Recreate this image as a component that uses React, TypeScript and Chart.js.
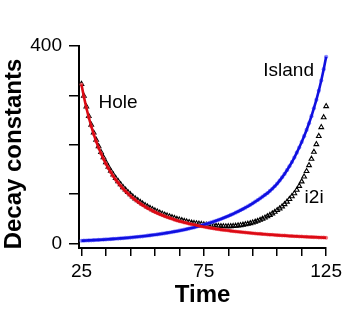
import React, { useEffect, useRef } from "react";
import { Chart, registerables } from "chart.js";

Chart.register(...registerables);

const times = [
  25, 26, 27, 28, 29, 30, 31, 32, 33, 34, 35, 36, 37, 38, 39, 40, 41, 42, 43, 44,
  45, 46, 47, 48, 49, 50, 51, 52, 53, 54, 55, 56, 57, 58, 59, 60, 61, 62, 63, 64,
  65, 66, 67, 68, 69, 70, 71, 72, 73, 74, 75, 76, 77, 78, 79, 80, 81, 82, 83, 84,
  85, 86, 87, 88, 89, 90, 91, 92, 93, 94, 95, 96, 97, 98, 99, 100, 101, 102, 103, 104,
  105, 106, 107, 108, 109, 110, 111, 112, 113, 114, 115, 116, 117, 118, 119, 120, 121, 122, 123, 124,
  125,
];

const hole = [
  322, 297.1, 275.0, 255.2, 237.6, 221.6, 207.1, 194.1, 182.2, 171.5,
  161.5, 152.5, 144.2, 136.5, 129.4, 122.9, 116.8, 111.1, 105.9, 101.1,
  96.5, 92.2, 88.3, 84.5, 81.0, 77.8, 74.7, 71.7, 69.0, 66.4,
  63.9, 61.6, 59.4, 57.3, 55.4, 53.5, 51.7, 50.1, 48.4, 46.8,
  45.4, 44.0, 42.6, 41.4, 40.2, 39.0, 37.9, 36.8, 35.8, 34.8,
  33.9, 32.9, 32.0, 31.3, 30.4, 29.6, 29.0, 28.2, 27.5, 26.8,
  26.3, 25.6, 25.0, 24.4, 23.8, 23.3, 22.8, 22.3, 21.8, 21.3,
  20.9, 20.4, 20.0, 19.6, 19.1, 18.8, 18.4, 18.0, 17.7, 17.3,
  17.0, 16.6, 16.4, 16.1, 15.7, 15.4, 15.1, 14.8, 14.6, 14.4,
  14.1, 13.9, 13.6, 13.4, 13.1, 13.0, 12.7, 12.5, 12.3, 12.1,
  11.9,
];

const island = [
  5.7, 5.9, 6.2, 6.4, 6.6, 6.9, 7.2, 7.4, 7.7, 8.0,
  8.3, 8.7, 9.0, 9.4, 9.7, 10.1, 10.5, 10.9, 11.3, 11.7,
  12.2, 12.7, 13.2, 13.7, 14.2, 14.7, 15.3, 15.9, 16.5, 17.2,
  17.8, 18.5, 19.2, 20.0, 20.8, 21.6, 22.4, 23.3, 24.2, 25.1,
  26.1, 27.1, 28.1, 29.2, 30.3, 31.5, 32.7, 34.0, 35.3, 36.7,
  38.1, 39.6, 41.1, 42.7, 44.4, 46.1, 47.9, 49.7, 51.7, 53.7,
  55.7, 57.9, 60.1, 62.5, 64.9, 67.4, 70.0, 72.7, 75.5, 78.5,
  81.5, 84.7, 87.9, 91.3, 94.9, 98.5, 102, 106.5, 111, 116,
  121.5, 127.5, 134, 141, 148.5, 156.5, 165, 174, 184, 194.5,
  205.5, 217.5, 230, 243.5, 258, 274, 291, 309.5, 330, 353,
  378,
];

const i2i = [
  323, 299, 277.5, 258, 240.5, 224.5, 210, 197, 185, 174.5,
  164.5, 155.5, 147, 139.5, 132.5, 126, 120, 114, 109, 104,
  99.5, 95, 91, 87.5, 84, 80.8, 77.7, 74.7, 72, 69.4,
  66.9, 64.6, 62.4, 60.3, 58.4, 56.5, 54.7, 53.1, 51.4, 49.8,
  48.4, 47, 45.6, 44.4, 43.2, 42, 41.3, 40.7, 40, 39.3,
  38.6, 38, 37.3, 36.7, 36.1, 35.6, 35.2, 34.9, 34.7, 34.6,
  34.7, 34.9, 35.3, 35.8, 36.4, 37.1, 37.9, 38.8, 39.8, 41.0,
  42.4, 44.0, 45.8, 47.8, 50.0, 52.4, 55.0, 57.8, 60.8, 64,
  67.5, 71, 75, 79.5, 84.5, 90, 95.5, 101.5, 108.5, 116.5,
  125.5, 135.5, 146.5, 158.5, 171.5, 185.5, 201, 217.5, 235.5, 255.5,
  278,
];

const seriesNames = ["Hole", "Island", "i2i"];
const xTickValues = [25, 35, 45, 55, 65, 75, 85, 95, 105, 115, 125];
const xTickLabels = [25, 75, 125];
const yTickValues = [0, 100, 200, 300, 400];
const yTickLabels = [0, 400];
const xTitle = "Time";
const yTitle = "Decay constants";

// text label anchors in data coordinates (left edge, vertical middle)
const labelAnchorX = [32, 99.3, 116.2];
const labelAnchorY = [285, 349, 92];

const FONT = '"Liberation Sans", Arial, Helvetica, sans-serif';

const seriesLabelPlugin = {
  id: "seriesLabelPlugin",
  afterDatasetsDraw(chart: any) {
    const { ctx, scales } = chart;
    const xs = scales.x;
    const ys = scales.y;
    ctx.save();
    ctx.font = `19px ${FONT}`;
    ctx.fillStyle = "#000";
    ctx.textAlign = "left";
    ctx.textBaseline = "middle";
    seriesNames.forEach((name, i) => {
      ctx.fillText(name, xs.getPixelForValue(labelAnchorX[i]), ys.getPixelForValue(labelAnchorY[i]));
    });
    ctx.restore();
  },
};

// y-axis title, centred a little below the middle of the axis as in the reference
const yTitlePlugin = {
  id: "yTitlePlugin",
  afterDraw(chart: any) {
    const { ctx, chartArea } = chart;
    ctx.save();
    ctx.font = `bold 24px ${FONT}`;
    ctx.fillStyle = "#000";
    ctx.textAlign = "center";
    ctx.textBaseline = "alphabetic";
    ctx.translate(21, (chartArea.top + chartArea.bottom) / 2 + 7);
    ctx.rotate(-Math.PI / 2);
    ctx.fillText(yTitle, 0, 0);
    ctx.restore();
  },
};

export default function App() {
  const canvasRef = useRef<HTMLCanvasElement | null>(null);

  useEffect(() => {
    document.body.style.margin = "0";
    const canvas = canvasRef.current;
    if (!canvas) return;
    const toXY = (arr: number[]) => times.map((t, i) => ({ x: t, y: arr[i] }));
    const chart = new Chart(canvas, {
      type: "line",
      data: {
        datasets: [
          {
            label: seriesNames[0],
            data: toXY(hole),
            borderColor: "#dc0a14",
            borderWidth: 2.6,
            pointRadius: 0,
            tension: 0,
            order: 0,
          },
          {
            label: seriesNames[1],
            data: toXY(island),
            borderColor: "#1010e0",
            borderWidth: 2.6,
            pointRadius: 0,
            tension: 0,
            order: 1,
          },
          {
            label: seriesNames[0] + " points",
            data: toXY(hole),
            showLine: false,
            pointRadius: 2,
            pointBackgroundColor: "rgba(240,80,90,0.75)",
            pointBorderWidth: 0,
            order: 2,
          },
          {
            label: seriesNames[1] + " points",
            data: toXY(island),
            showLine: false,
            pointRadius: 2.1,
            pointBackgroundColor: "rgba(110,110,255,0.8)",
            pointBorderWidth: 0,
            order: 3,
          },
          {
            label: seriesNames[2],
            data: toXY(i2i),
            showLine: false,
            pointStyle: "triangle",
            pointRadius: 2.7,
            pointBorderColor: "#000",
            pointBackgroundColor: "rgba(255,255,255,0)",
            pointBorderWidth: 1.1,
            order: 4,
          },
        ],
      },
      options: {
        responsive: false,
        animation: false,
        clip: false as any,
        layout: { padding: { top: 46, right: 16, left: 0, bottom: 0 } },
        plugins: {
          legend: { display: false },
          tooltip: { enabled: false },
        },
        scales: {
          x: {
            type: "linear",
            min: 24,
            max: 125,
            afterBuildTicks: (scale: any) => {
              scale.ticks = xTickValues.map((v) => ({ value: v }));
            },
            afterFit: (scale: any) => {
              scale.height = 62;
            },
            ticks: {
              autoSkip: false,
              maxRotation: 0,
              padding: 4,
              color: "#000",
              font: { family: FONT, size: 19 },
              callback: (v: any) => (xTickLabels.includes(Number(v)) ? String(v) : ""),
            },
            grid: {
              drawOnChartArea: false,
              drawTicks: true,
              tickLength: 8,
              color: "#000",
              lineWidth: 1.5,
            },
            border: { display: true, color: "#000", width: 2 },
            title: {
              display: true,
              text: xTitle,
              color: "#000",
              font: { family: FONT, size: 24, weight: "bold" },
              padding: { top: 0, bottom: 0 },
            },
          },
          y: {
            type: "linear",
            min: -9,
            max: 400,
            afterBuildTicks: (scale: any) => {
              scale.ticks = yTickValues.map((v) => ({ value: v }));
            },
            afterFit: (scale: any) => {
              scale.width = 79;
            },
            ticks: {
              autoSkip: false,
              padding: 7,
              color: "#000",
              font: { family: FONT, size: 19 },
              callback: (v: any) => (yTickLabels.includes(Number(v)) ? String(v) : ""),
            },
            grid: {
              drawOnChartArea: false,
              drawTicks: true,
              tickLength: 10,
              color: "#000",
              lineWidth: 1.5,
            },
            border: { display: true, color: "#000", width: 2 },
            title: { display: false },
          },
        },
      },
      plugins: [seriesLabelPlugin, yTitlePlugin],
    });
    return () => chart.destroy();
  }, []);

  return (
    <div style={{ width: 346, height: 310 }}>
      <canvas ref={canvasRef} width={346} height={310} style={{ display: "block" }} />
    </div>
  );
}
